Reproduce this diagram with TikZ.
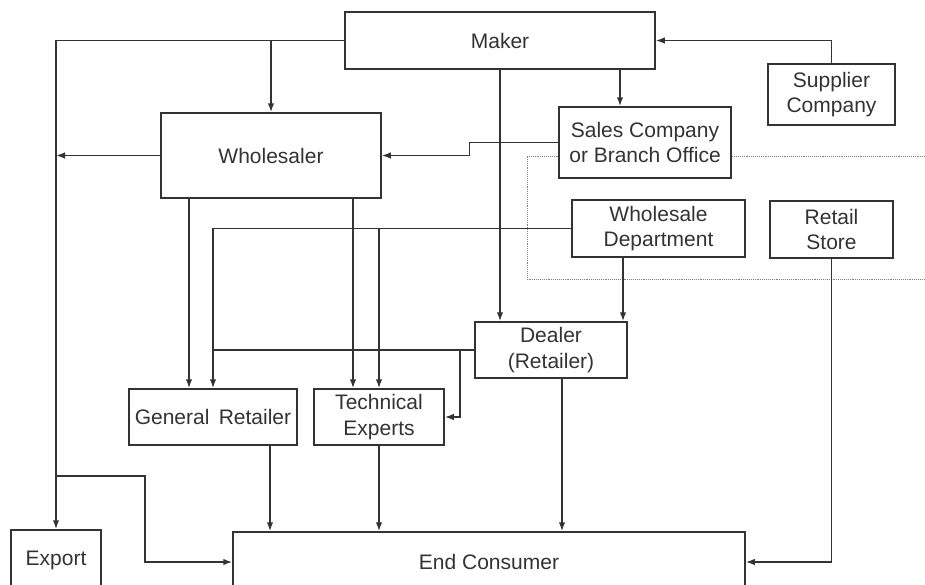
\documentclass[tikz,border=0pt]{standalone}
\usepackage{fontspec}
\setmainfont{Liberation Sans}
\usepackage{tikz}
\usetikzlibrary{positioning}
\usetikzlibrary{arrows.meta}
\usetikzlibrary{backgrounds}
\tikzstyle{line} = [draw, -{Latex[length=9pt, width=6.5pt]}]
\definecolor{ink}{HTML}{333333}
\begin{document}
\begin{tikzpicture}[x=1pt, y=-1pt, line width=1.5pt, color=ink,
				internal/.style={draw, rectangle, fill=white, inner sep=2pt, align=center},
				every node/.style={font=\fontsize{21}{25.5}\selectfont}]
				\useasboundingbox (0,0) rectangle (925,584);
				\clip (0,0) rectangle (925,584);
				\node[internal, minimum width=310, minimum height=57](maker) at (500, 40.5) {Maker};
				\node[internal, minimum width=220, minimum height=85](wholesaler) at (271, 155.5) {Wholesaler};
				\node[internal, minimum width=172, minimum height=71](sales) at (645, 142.5) {Sales Company\\or Branch Office};
				\node[internal, minimum width=127, minimum height=61](supplier) at (831.5, 94.5) {Supplier\\Company};
				\node[internal, minimum width=173, minimum height=57](wsdept) at (658.5, 228.5) {Wholesale\\Department};
				\node[internal, minimum width=123, minimum height=57](retail) at (831.5, 229.5) {Retail\\Store};
				\node[internal, minimum width=152, minimum height=56](dealer) at (551, 350) {Dealer\\(Retailer)};
				\node[internal, minimum width=168, minimum height=56](general) at (213, 417) {General\, Retailer};
				\node[internal, minimum width=130, minimum height=56](tech) at (379, 417) {Technical\\Experts};
				\node[internal, minimum width=512, minimum height=60](consumer) at (489, 562) {End Consumer};
				\node[internal, minimum width=90, minimum height=60](export) at (56, 560) {Export};
				
				\coordinate (j1) at (56, 476);
				\coordinate (j2) at (460, 350);
				
				\begin{scope}[on background layer]
				\draw[gray, densely dotted, line width=0.9pt] (925,156) -- (527,156) -- (527,279) -- (925,279);
				\end{scope}
				
				\draw [line] (maker.west) -| (export.north);
				\draw [line] (maker.west -| wholesaler.north) -- (wholesaler.north);
				\draw [line] (wholesaler.west) -- (wholesaler.west -| export.north);
				\draw [line] (j1) -- ++(89,0) |- (consumer.west);
				\draw [line] (supplier.north) |- (maker.east);
				\draw [line] ([xshift=120pt]maker.south) -- ([xshift=120pt]maker.south |- sales.north);
				\draw [line] (maker.south) -- (maker.south |- dealer.north);
				\draw [line] (sales.west) -- ++(-89,0) |- (wholesaler.east);
				\draw [line] ([xshift=-24pt]general.north |- wholesaler.south) -- ([xshift=-24pt]general.north);
				\draw [line] ([xshift=-26pt]tech.north |- wholesaler.south) -- ([xshift=-26pt]tech.north);
				\draw [line] (wsdept.west) -| (general.north);
				\draw [line] (wsdept.west -| tech.north) -- (tech.north);
				\draw (dealer.west) -- (dealer.west -| general.north);
				\draw [line] (j2) |- (tech.east);
				\draw [line] ([xshift=72pt]dealer.north |- wsdept.south) -- ([xshift=72pt]dealer.north);
				\draw [line] ([xshift=11pt]dealer.south) -- ([xshift=11pt]dealer.south |- consumer.north);
				\draw [line] ([xshift=57pt]general.south) -- ([xshift=57pt]general.south |- consumer.north);
				\draw [line] (tech.south) -- (tech.south |- consumer.north);
				\draw [line] (retail.south) |- (consumer.east);
				
			\end{tikzpicture}
\end{document}
